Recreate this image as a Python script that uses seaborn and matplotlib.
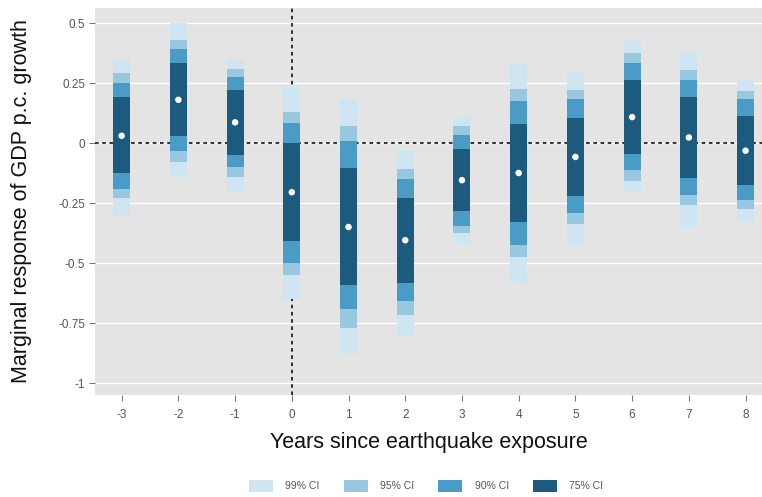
import numpy as np
import pandas as pd
import matplotlib
matplotlib.use("Agg")
import matplotlib.pyplot as plt
import seaborn as sns
from matplotlib.patches import Patch

periods = [-3, -2, -1, 0, 1, 2, 3, 4, 5, 6, 7, 8]
estimate = [0.03, 0.18, 0.086, -0.205, -0.35, -0.405, -0.155, -0.125, -0.058, 0.108, 0.023, -0.032]

lo99 = [-0.305, -0.14, -0.20, -0.65, -0.88, -0.80, -0.415, -0.583, -0.42, -0.20, -0.35, -0.327]
hi99 = [0.35, 0.50, 0.35, 0.24, 0.18, -0.03, 0.11, 0.333, 0.30, 0.43, 0.38, 0.264]
lo95 = [-0.23, -0.08, -0.14, -0.55, -0.77, -0.715, -0.375, -0.475, -0.336, -0.16, -0.257, -0.275]
hi95 = [0.29, 0.43, 0.31, 0.13, 0.07, -0.11, 0.07, 0.225, 0.22, 0.375, 0.305, 0.215]
lo90 = [-0.19, -0.035, -0.10, -0.50, -0.69, -0.66, -0.345, -0.424, -0.29, -0.114, -0.215, -0.236]
hi90 = [0.25, 0.39, 0.275, 0.083, 0.007, -0.15, 0.035, 0.173, 0.183, 0.333, 0.264, 0.183]
lo75 = [-0.125, 0.028, -0.05, -0.41, -0.59, -0.585, -0.285, -0.33, -0.22, -0.045, -0.146, -0.174]
hi75 = [0.19, 0.333, 0.22, 0.0, -0.104, -0.23, -0.025, 0.08, 0.104, 0.264, 0.19, 0.114]

levels = ["99% CI", "95% CI", "90% CI", "75% CI"]
colors = ["#cfe5f1", "#97c8e0", "#4a9bc6", "#1c5a7e"]
y_ticks = [0.5, 0.25, 0, -0.25, -0.5, -0.75, -1]
y_tick_labels = ["0.5", "0.25", "0", "-0.25", "-0.5", "-0.75", "-1"]

rows = []
for lev, lo, hi in zip(levels, [lo99, lo95, lo90, lo75], [hi99, hi95, hi90, hi75]):
    for p, l, h in zip(periods, lo, hi):
        rows.append({"period": p, "level": lev, "lo": l, "hi": h})
ci = pd.DataFrame(rows)
pts = pd.DataFrame({"period": periods, "estimate": estimate})

sns.set_theme(style="darkgrid", rc={
    "axes.facecolor": "#e4e4e4",
    "grid.color": "white",
    "grid.linewidth": 1.0,
})
plt.rcParams["font.family"] = ["Liberation Sans", "DejaVu Sans"]

fig = plt.figure(figsize=(7.62, 4.97), dpi=100)
ax = fig.add_axes([95 / 762, 1 - 395 / 497, 1 - 95 / 762, (395 - 8) / 497])

ax.axhline(0, color="#222222", linestyle=(0, (2, 2)), linewidth=1.3, zorder=1)
ax.axvline(0, color="#222222", linestyle=(0, (2, 2)), linewidth=1.3, zorder=1)

for lev, col in zip(levels, colors):
    sub = ci[ci["level"] == lev]
    ax.bar(sub["period"], sub["hi"] - sub["lo"], bottom=sub["lo"], width=0.3,
           color=col, linewidth=0, zorder=2)

sns.scatterplot(data=pts, x="period", y="estimate", ax=ax, color="white",
                s=22, edgecolor="none", zorder=5, legend=False)

ax.set_xlim(-3.47, 8.29)
ax.set_ylim(-1.05, 0.5625)
ax.set_xticks(periods)
ax.set_xticklabels([str(p) for p in periods])
ax.set_yticks(y_ticks)
ax.set_yticklabels(y_tick_labels)
ax.grid(axis="x", visible=False)
ax.grid(axis="y", visible=True, color="white", linewidth=1.0)
for s in ax.spines.values():
    s.set_visible(False)
ax.tick_params(axis="both", which="both", length=4, width=0.8, color="#777777",
               labelsize=8.5, labelcolor="#555555", pad=3)
ax.tick_params(axis="x", bottom=True, pad=6)
ax.tick_params(axis="y", left=True)

ax.set_xlabel("Years since earthquake exposure", fontsize=15.5, color="#111111", labelpad=8)
ax.set_ylabel("Marginal response of GDP p.c. growth", fontsize=15.5, color="#111111")
ax.yaxis.set_label_coords(-0.095, 0.5)

handles = [Patch(facecolor=c, edgecolor="none", label=l) for c, l in zip(colors, levels)]
fig.legend(handles=handles, loc="center", bbox_to_anchor=(426 / 762, 1 - 486 / 497),
           ncol=4, frameon=False, fontsize=7.5, handlelength=2.3, handleheight=1.5,
           columnspacing=2.3, handletextpad=1.2, labelcolor="#555555")

fig.savefig("out.png", dpi=100)
